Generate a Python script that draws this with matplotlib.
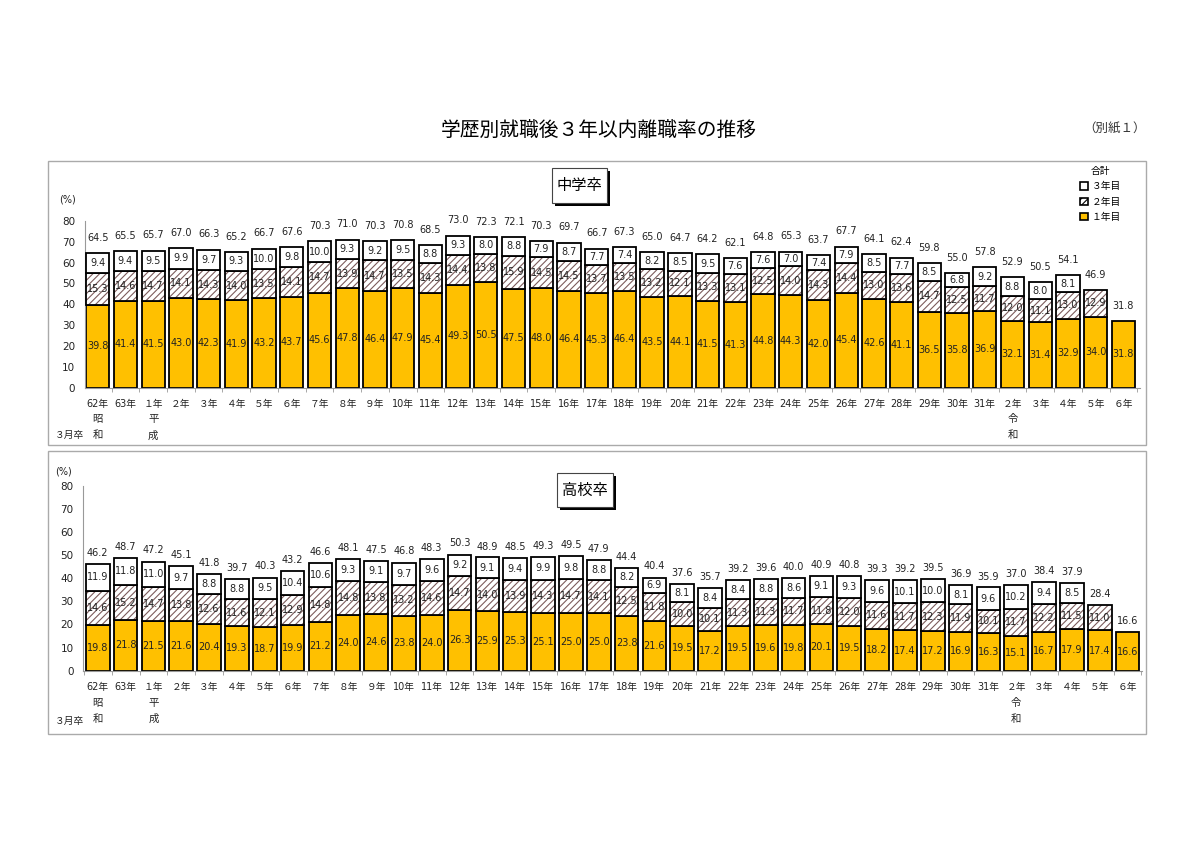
import matplotlib.pyplot as plt
import matplotlib.patches as mpatches
import numpy as np

# fonts: latin digits in DejaVu, japanese falls back to Noto CJK
plt.rcParams['font.family'] = ['DejaVu Sans', 'Noto Sans CJK JP']
plt.rcParams['hatch.linewidth'] = 0.8

# ---- data ----
years = ["62年", "63年",
         "１年", "２年", "３年", "４年", "５年", "６年", "７年", "８年", "９年",
         "10年", "11年", "12年", "13年", "14年", "15年", "16年", "17年", "18年",
         "19年", "20年", "21年", "22年", "23年", "24年", "25年", "26年", "27年",
         "28年", "29年", "30年", "31年",
         "２年", "３年", "４年", "５年", "６年"]
era_names = ["昭和", "平成", "令和"]
era_start = [0, 2, 33]
legend_labels = ["３年目", "２年目", "１年目"]

# 中学卒
jh_first = [39.8, 41.4, 41.5, 43.0, 42.3, 41.9, 43.2, 43.7, 45.6, 47.8, 46.4, 47.9, 45.4,
            49.3, 50.5, 47.5, 48.0, 46.4, 45.3, 46.4, 43.5, 44.1, 41.5, 41.3, 44.8, 44.3,
            42.0, 45.4, 42.6, 41.1, 36.5, 35.8, 36.9,
            32.1, 31.4, 32.9, 34.0, 31.8]
jh_second = [15.3, 14.6, 14.7, 14.1, 14.3, 14.0, 13.5, 14.1, 14.7, 13.9, 14.7, 13.5, 14.3,
             14.4, 13.8, 15.9, 14.5, 14.5, 13.7, 13.5, 13.2, 12.1, 13.3, 13.1, 12.5, 14.0,
             14.3, 14.4, 13.0, 13.6, 14.7, 12.5, 11.7,
             12.0, 11.1, 13.0, 12.9, None]
jh_third = [9.4, 9.4, 9.5, 9.9, 9.7, 9.3, 10.0, 9.8, 10.0, 9.3, 9.2, 9.5, 8.8,
            9.3, 8.0, 8.8, 7.9, 8.7, 7.7, 7.4, 8.2, 8.5, 9.5, 7.6, 7.6, 7.0,
            7.4, 7.9, 8.5, 7.7, 8.5, 6.8, 9.2,
            8.8, 8.0, 8.1, None, None]
jh_total = [64.5, 65.5, 65.7, 67.0, 66.3, 65.2, 66.7, 67.6, 70.3, 71.0, 70.3, 70.8, 68.5,
            73.0, 72.3, 72.1, 70.3, 69.7, 66.7, 67.3, 65.0, 64.7, 64.2, 62.1, 64.8, 65.3,
            63.7, 67.7, 64.1, 62.4, 59.8, 55.0, 57.8,
            52.9, 50.5, 54.1, 46.9, 31.8]

# 高校卒
hs_first = [19.8, 21.8, 21.5, 21.6, 20.4, 19.3, 18.7, 19.9, 21.2, 24.0, 24.6, 23.8, 24.0,
            26.3, 25.9, 25.3, 25.1, 25.0, 25.0, 23.8, 21.6, 19.5, 17.2, 19.5, 19.6, 19.8,
            20.1, 19.5, 18.2, 17.4, 17.2, 16.9, 16.3,
            15.1, 16.7, 17.9, 17.4, 16.6]
hs_second = [14.6, 15.2, 14.7, 13.8, 12.6, 11.6, 12.1, 12.9, 14.8, 14.8, 13.8, 13.2, 14.6,
             14.7, 14.0, 13.9, 14.3, 14.7, 14.1, 12.5, 11.8, 10.0, 10.1, 11.3, 11.3, 11.7,
             11.8, 12.0, 11.6, 11.7, 12.3, 11.9, 10.1,
             11.7, 12.2, 11.5, 11.0, None]
hs_third = [11.9, 11.8, 11.0, 9.7, 8.8, 8.8, 9.5, 10.4, 10.6, 9.3, 9.1, 9.7, 9.6,
            9.2, 9.1, 9.4, 9.9, 9.8, 8.8, 8.2, 6.9, 8.1, 8.4, 8.4, 8.8, 8.6,
            9.1, 9.3, 9.6, 10.1, 10.0, 8.1, 9.6,
            10.2, 9.4, 8.5, None, None]
hs_total = [46.2, 48.7, 47.2, 45.1, 41.8, 39.7, 40.3, 43.2, 46.6, 48.1, 47.5, 46.8, 48.3,
            50.3, 48.9, 48.5, 49.3, 49.5, 47.9, 44.4, 40.4, 37.6, 35.7, 39.2, 39.6, 40.0,
            40.9, 40.8, 39.3, 39.2, 39.5, 36.9, 35.9,
            37.0, 38.4, 37.9, 28.4, 16.6]

YELLOW = '#FFC000'
HATCH_COLOR = '#7d5c5c'
EDGE_LW = 1.3
W, H = 1200, 849


def fx(px):
    return px / W


def fy(py):
    return 1 - py / H


def to_arr(vals):
    return np.array([np.nan if v is None else v for v in vals], dtype=float)


def draw_panel(ax, first, second, third, total, width, total_offset):
    """stacked bars (1年目 / 2年目 / 3年目) with value labels"""
    x = np.arange(len(years))
    y1 = to_arr(first)
    y2 = to_arr(second)
    y3 = to_arr(third)

    ax.bar(x, y1, width, color=YELLOW, edgecolor='black', linewidth=EDGE_LW, zorder=2)

    m2 = ~np.isnan(y2)
    # hatch drawn separately so the hatch colour differs from the outline
    ax.bar(x[m2], y2[m2], width, bottom=y1[m2], color='white', edgecolor=HATCH_COLOR,
           hatch='/////', linewidth=0, zorder=2)
    ax.bar(x[m2], y2[m2], width, bottom=y1[m2], fill=False, edgecolor='black',
           linewidth=EDGE_LW, zorder=3)

    m3 = ~np.isnan(y3)
    b3 = (y1 + y2)[m3]
    ax.bar(x[m3], y3[m3], width, bottom=b3, color='white', edgecolor='black',
           linewidth=EDGE_LW, zorder=3)

    for i in x:
        ax.text(i, y1[i] / 2, f"{y1[i]:.1f}", ha='center', va='center', fontsize=7,
                color='#222222', zorder=5)
        if m2[i]:
            ax.text(i, y1[i] + y2[i] / 2, f"{y2[i]:.1f}", ha='center', va='center',
                    fontsize=7, color='#222222', zorder=5)
        if m3[i]:
            ax.text(i, y1[i] + y2[i] + y3[i] / 2, f"{y3[i]:.1f}", ha='center',
                    va='center', fontsize=7, color='#222222', zorder=5)
        ax.annotate(f"{total[i]:.1f}", (i, total[i]), xytext=(0, total_offset),
                    textcoords='offset points', ha='center', va='center', fontsize=7,
                    color='#222222')

    ax.set_ylim(0, 80)
    ax.set_yticks(np.arange(0, 81, 10))
    ax.set_xticks(x)
    ax.set_xticklabels(years, fontsize=7, color='#222222')
    ax.set_xticks(np.arange(-0.5, len(years), 1), minor=True)
    ax.tick_params(axis='x', which='major', length=0, pad=8)
    ax.tick_params(axis='x', which='minor', length=3, color='#999999')
    ax.tick_params(axis='y', length=0, pad=7, labelsize=7.5, labelcolor='#222222')
    for s in ['top', 'right']:
        ax.spines[s].set_visible(False)
    ax.spines['left'].set_color('#999999')
    ax.spines['bottom'].set_color('#999999')
    ax.patch.set_alpha(0)

    # era names written vertically under the first year of each era
    for name, idx in zip(era_names, era_start):
        for k, ch in enumerate(name):
            ax.annotate(ch, (idx, 0), xycoords=('data', 'axes fraction'),
                        xytext=(0, -23 - 11.5 * k), textcoords='offset points',
                        ha='center', va='center', fontsize=7.5, color='#222222')


def name_box(fig, text, x0, y0, x1, y1):
    """white label box with a black drop shadow"""
    sh = 3
    fig.patches.append(mpatches.Rectangle((fx(x0 + sh), fy(y1 + sh)), fx(x1 - x0), (y1 - y0) / H,
                                          transform=fig.transFigure, facecolor='black',
                                          edgecolor='none', zorder=5))
    fig.patches.append(mpatches.Rectangle((fx(x0), fy(y1)), fx(x1 - x0), (y1 - y0) / H,
                                          transform=fig.transFigure, facecolor='white',
                                          edgecolor='#444444', linewidth=0.8, zorder=6))
    fig.text(fx((x0 + x1) / 2), fy((y0 + y1) / 2), text, ha='center', va='center',
             fontsize=11, family=['Noto Sans CJK JP'], zorder=7)


fig = plt.figure(figsize=(12, 8.49), dpi=100)

# panel frames
for top, bottom in [(161, 445), (451, 734)]:
    fig.patches.append(mpatches.Rectangle((fx(48), fy(bottom)), fx(1146 - 48), (bottom - top) / H,
                                          transform=fig.transFigure, fill=False,
                                          edgecolor='#aaaaaa', linewidth=1.0))

fig.text(fx(599), fy(131), "学歴別就職後３年以内離職率の推移", ha='center', va='center',
         fontsize=14.2, family=['Noto Sans CJK JP'])
fig.text(fx(1146), fy(128), "（別紙１）", ha='right', va='center', fontsize=9,
         family=['Noto Sans CJK JP'], color='#333333')

# 中学卒
ax1 = fig.add_axes([fx(85), fy(387.5), fx(1140 - 85), (387.5 - 221) / H])
draw_panel(ax1, jh_first, jh_second, jh_third, jh_total, 0.84, 11)
ax1.set_xlim(-0.46, 37.6)
fig.text(fx(67), fy(199), "(%)", ha='center', va='center', fontsize=7, color='#222222')
fig.text(fx(55), fy(435), "３月卒", ha='left', va='center', fontsize=7, color='#222222')
name_box(fig, "中学卒", 552, 168, 607, 203)

# 高校卒
ax2 = fig.add_axes([fx(83.3), fy(670.7), fx(1142 - 83.3), (670.7 - 485.7) / H])
draw_panel(ax2, hs_first, hs_second, hs_third, hs_total, 0.85, 8)
ax2.set_xlim(-0.52, 37.52)
fig.text(fx(63), fy(472), "(%)", ha='center', va='center', fontsize=7, color='#222222')
fig.text(fx(55), fy(721), "３月卒", ha='left', va='center', fontsize=7, color='#222222')
name_box(fig, "高校卒", 557, 473, 613, 507)

# legend
handles = [mpatches.Patch(facecolor='white', edgecolor='black', linewidth=1.2),
           mpatches.Patch(facecolor='white', edgecolor='black', hatch='/////', linewidth=1.2),
           mpatches.Patch(facecolor=YELLOW, edgecolor='black', linewidth=1.2)]
fig.legend(handles, legend_labels, loc='upper left', bbox_to_anchor=(fx(1080), fy(166)),
           frameon=False, fontsize=7, title='合計', title_fontsize=7,
           handlelength=0.8, handleheight=0.8, handletextpad=0.4, labelspacing=0.55,
           borderpad=0, borderaxespad=0)

fig.savefig('out.png', dpi=100)
